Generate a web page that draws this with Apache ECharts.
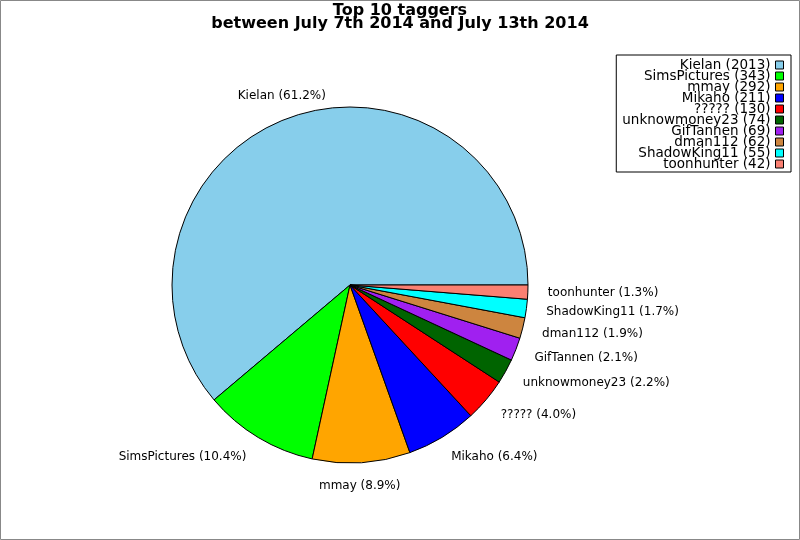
<!DOCTYPE html>
<html>
<head>
<meta charset="utf-8">
<script src="https://cdn.jsdelivr.net/npm/echarts@6/dist/echarts.min.js"></script>
<style>
html,body{margin:0;padding:0;background:#fff;}
#c{width:800px;height:540px;}
</style>
</head>
<body>
<div id="c"></div>
<script>
const names = ['Kielan','SimsPictures','mmay','Mikaho','?????','unknowmoney23','GifTannen','dman112','ShadowKing11','toonhunter'];
const counts = [2013,343,292,211,130,74,69,62,55,42];
const colors = ['#87CEEB','#00FF00','#FFA500','#0000FF','#FF0000','#006400','#A020F0','#CD853F','#00FFFF','#FA8072'];
const titleLines = ['Top 10 taggers','between July 7th 2014 and July 13th 2014'];

const total = counts.reduce((a,b)=>a+b,0);
const FONT = 'DejaVu Sans';
// per-item label nudges (centre the top/bottom labels)
const labelDist = {'Kielan': -45, 'mmay': -44, 'SimsPictures': 0};

const data = names.map((n,i)=>{
  const d = {name:n, value:counts[i], itemStyle:{color:colors[i]}};
  if (labelDist[n] !== undefined) d.label = {distanceToLabelLine: labelDist[n]};
  return d;
});

const chart = echarts.init(document.getElementById('c'), null, {renderer:'canvas'});
chart.setOption({
  animation:false,
  backgroundColor:'#fff',
  title:{
    text: titleLines.join('\n'),
    left:'center', top:4, padding:[0,5,5,5],
    textStyle:{fontFamily:FONT, fontSize:16, fontWeight:'bold', color:'#000', lineHeight:13}
  },
  legend:{
    orient:'vertical', right:9, top:55, align:'right',
    padding:[3,7,1,6], itemGap:-3, itemWidth:8, itemHeight:8,
    borderColor:'#000', borderWidth:1, icon:'rect',
    data:names,
    formatter: n => n + ' (' + counts[names.indexOf(n)] + ')',
    textStyle:{fontFamily:FONT, fontSize:13.5, color:'#000', lineHeight:11},
    itemStyle:{borderColor:'#000', borderWidth:1}
  },
  graphic:[{type:'rect', shape:{x:0.5,y:0.5,width:799,height:539}, style:{fill:'none', stroke:'#888', lineWidth:1}, silent:true}],
  series:[{
    type:'pie',
    center:[350,285], radius:178,
    startAngle:0, clockwise:false,
    avoidLabelOverlap:false,
    emphasis:{scale:false},
    itemStyle:{borderColor:'#000', borderWidth:1},
    label:{
      show:true, position:'outside', alignTo:'none',
      distanceToLabelLine:-3,
      fontFamily:FONT, fontSize:12, color:'#000',
      formatter: p => p.name + ' (' + (p.value/total*100).toFixed(1) + '%)'
    },
    labelLine:{show:false, length:23, length2:0},
    data:data
  }]
});
</script>
</body>
</html>
